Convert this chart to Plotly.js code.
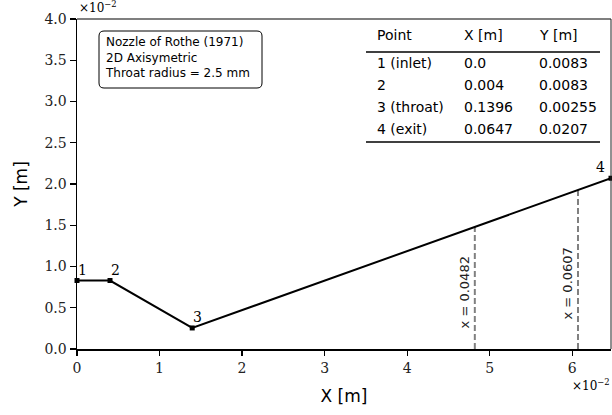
<!DOCTYPE html>
<html>
<head>
<meta charset="utf-8">
<script src="https://cdn.plot.ly/plotly-3.0.1.min.js"></script>
<style>html,body{margin:0;padding:0;background:#fff;}#chart{width:612px;height:415px;}</style>
</head>
<body>
<div id="chart"></div>
<script>
// ---- data ----
const pointX = [0, 0.004, 0.01396, 0.0647];
const pointY = [0.0083, 0.0083, 0.00255, 0.0207];
const pointLabels = ['1', '2', '3', '4'];

const stationX = [0.0482, 0.0607];
const stationTop = [0.0148, 0.0193];
const stationLabelY = [0.0069, 0.0080];
const stationLabels = ['x = 0.0482', 'x = 0.0607'];

const xTickVals = [0, 0.01, 0.02, 0.03, 0.04, 0.05, 0.06];
const xTickText = ['0', '1', '2', '3', '4', '5', '6'];
const yTickVals = [0, 0.005, 0.01, 0.015, 0.02, 0.025, 0.03, 0.035, 0.04];
const yTickText = ['0.0', '0.5', '1.0', '1.5', '2.0', '2.5', '3.0', '3.5', '4.0'];

const tableHeader = ['Point', 'X [m]', 'Y [m]'];
const tableNames = ['1 (inlet)', '2', '3 (throat)', '4 (exit)'];
const tableX = ['0.0', '0.004', '0.1396', '0.0647'];
const tableY = ['0.0083', '0.0083', '0.00255', '0.0207'];

const infoLines = ['Nozzle of Rothe (1971)', '2D Axisymetric', 'Throat radius = 2.5 mm'];

// ---- layout helpers (pixel -> paper) ----
const W = 612, H = 415, ML = 77, MR = 1, MT = 19, MB = 66;
const PW = W - ML - MR, PH = H - MT - MB;
const px = v => (v - ML) / PW;
const py = v => (H - MB - v) / PH;

const serif = 'DejaVu Serif, serif';
const sans = 'DejaVu Sans, sans-serif';

const traces = [];
stationX.forEach((sx, i) => {
  traces.push({
    x: [sx, sx], y: [0, stationTop[i]], mode: 'lines', type: 'scatter',
    line: {color: '#808080', width: 2, dash: '6px,3px'}, hoverinfo: 'skip', showlegend: false
  });
});
traces.push({
  x: pointX, y: pointY, mode: 'lines+markers', type: 'scatter',
  line: {color: '#000', width: 2}, marker: {color: '#000', size: 5, symbol: 'square'},
  cliponaxis: false, showlegend: false
});

const annotations = [];
// point labels
pointX.forEach((x, i) => {
  const last = i === pointX.length - 1;
  annotations.push({
    x: x, y: pointY[i], xref: 'x', yref: 'y', text: pointLabels[i], showarrow: false,
    xanchor: last ? 'right' : 'left', yanchor: 'bottom', xshift: last ? -4 : -1, yshift: 1,
    font: {family: serif, size: 14, color: '#000'}
  });
});
// station labels
stationX.forEach((sx, i) => {
  annotations.push({
    x: sx, y: stationLabelY[i], xref: 'x', yref: 'y', text: stationLabels[i], showarrow: false,
    textangle: -90, xanchor: 'right', yanchor: 'middle', xshift: -1,
    font: {family: sans, size: 13, color: '#222'}
  });
});
// info box text
annotations.push({
  x: px(104), y: py(34), xref: 'paper', yref: 'paper', text: infoLines.join('<br>'),
  showarrow: false, xanchor: 'left', yanchor: 'top', align: 'left', borderpad: 0,
  font: {family: sans, size: 12, color: '#000'}
});
// table
const colX = [375, 462, 537];
const headerY = 35;
const rowY = [63, 85, 107, 129];
tableHeader.forEach((t, c) => {
  annotations.push({x: px(colX[c]), y: py(headerY), xref: 'paper', yref: 'paper', text: t,
    showarrow: false, xanchor: 'left', yanchor: 'middle', font: {family: sans, size: 14, color: '#000'}});
});
tableNames.forEach((n, r) => {
  [n, tableX[r], tableY[r]].forEach((t, c) => {
    annotations.push({x: px(colX[c]), y: py(rowY[r]), xref: 'paper', yref: 'paper', text: t,
      showarrow: false, xanchor: 'left', yanchor: 'middle', font: {family: sans, size: 14, color: '#000'}});
  });
});
// exponent labels
annotations.push({x: px(77), y: py(17), xref: 'paper', yref: 'paper', text: '×10<sup>−2</sup>',
  showarrow: false, xanchor: 'left', yanchor: 'bottom', font: {family: serif, size: 12, color: '#000'}});
annotations.push({x: px(612), y: py(375), xref: 'paper', yref: 'paper', text: '×10<sup>−2</sup>',
  showarrow: false, xanchor: 'right', yanchor: 'top', font: {family: serif, size: 12, color: '#000'}});

// shapes
const bx0 = px(99), bx1 = px(262), by1 = py(31), by0 = py(88);
const rx = 5 / PW, ry = 5 / PH;
const boxPath = `M ${bx0 + rx},${by1} L ${bx1 - rx},${by1} Q ${bx1},${by1} ${bx1},${by1 - ry} ` +
  `L ${bx1},${by0 + ry} Q ${bx1},${by0} ${bx1 - rx},${by0} L ${bx0 + rx},${by0} Q ${bx0},${by0} ${bx0},${by0 + ry} ` +
  `L ${bx0},${by1 - ry} Q ${bx0},${by1} ${bx0 + rx},${by1} Z`;
const shapes = [
  {type: 'path', xref: 'paper', yref: 'paper', path: boxPath, line: {color: '#000', width: 1}, fillcolor: 'rgba(255,255,255,0)'},
  {type: 'line', xref: 'paper', yref: 'paper', x0: px(366), x1: px(600), y0: py(52), y1: py(52), line: {color: '#000', width: 1.5}},
  {type: 'line', xref: 'paper', yref: 'paper', x0: px(366), x1: px(600), y0: py(142), y1: py(142), line: {color: '#000', width: 1.5}},
  {type: 'line', xref: 'paper', yref: 'paper', x0: 0, x1: 1, y0: 1, y1: 1, line: {color: '#555', width: 1.5}},
  {type: 'line', xref: 'paper', yref: 'paper', x0: 1, x1: 1, y0: 0, y1: 1, line: {color: '#222', width: 1}}
];

const layout = {
  width: W, height: H,
  margin: {l: ML, r: MR, t: MT, b: MB, pad: 0},
  paper_bgcolor: '#fff', plot_bgcolor: '#fff',
  showlegend: false,
  xaxis: {
    range: [0, 0.0647], tickvals: xTickVals, ticktext: xTickText,
    showgrid: false, zeroline: false, showline: true, linecolor: '#000', linewidth: 2,
    ticks: 'outside', ticklen: 5, tickwidth: 1.2, tickcolor: '#000',
    tickfont: {family: serif, size: 14, color: '#222'},
    title: {text: 'X [m]', font: {family: sans, size: 17, color: '#000'}, standoff: 15}
  },
  yaxis: {
    range: [0, 0.04], tickvals: yTickVals, ticktext: yTickText,
    showgrid: false, zeroline: false, showline: true, linecolor: '#000', linewidth: 1.5,
    ticks: 'outside', ticklen: 6, tickwidth: 1.2, tickcolor: '#000',
    tickfont: {family: serif, size: 14, color: '#222'},
    title: {text: 'Y [m]', font: {family: sans, size: 17, color: '#000'}, standoff: 12}
  },
  annotations: annotations,
  shapes: shapes
};

Plotly.newPlot('chart', traces, layout, {displayModeBar: false, staticPlot: true});
</script>
</body>
</html>
